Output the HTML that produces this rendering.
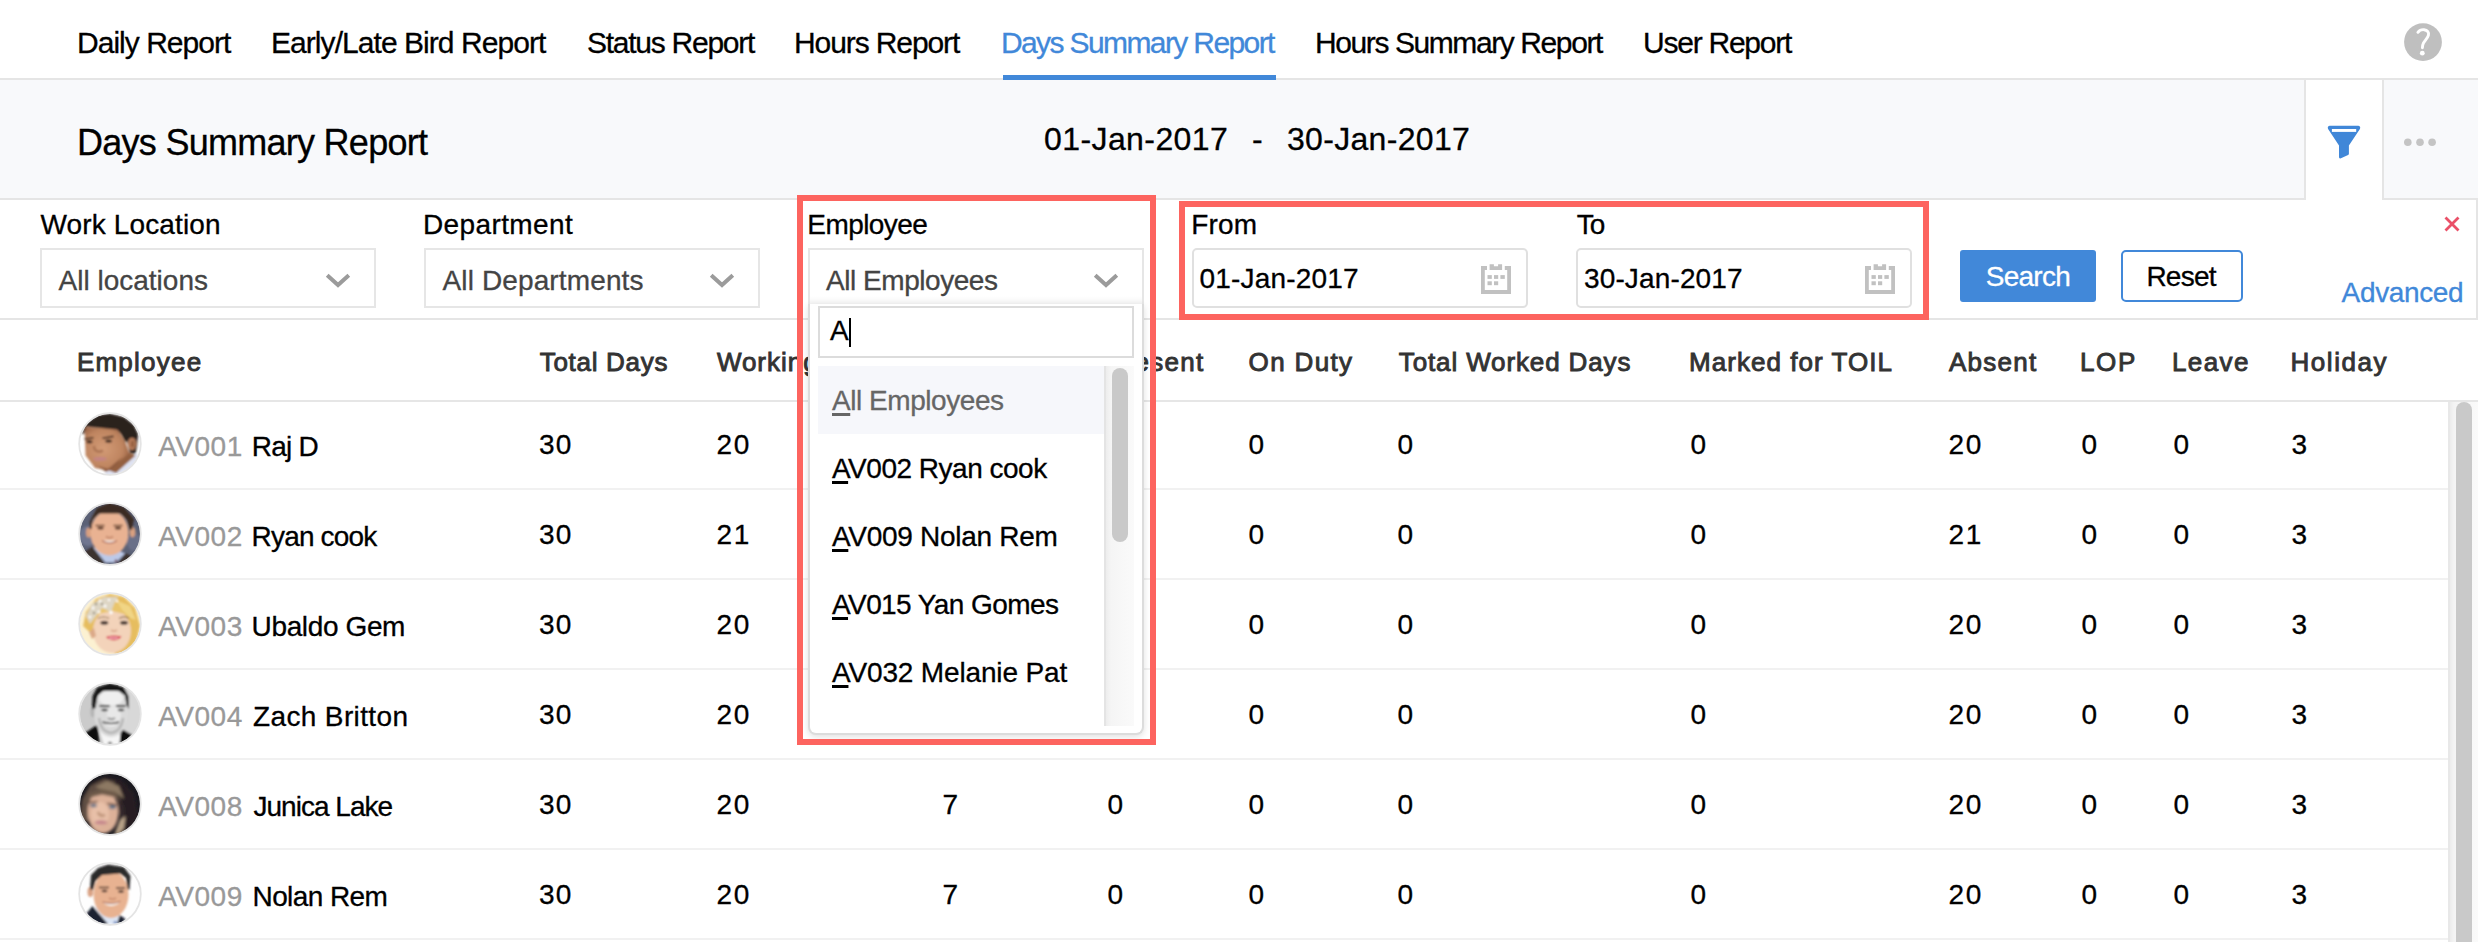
<!DOCTYPE html>
<html lang="en">
<head>
<meta charset="utf-8">
<title>Days Summary Report</title>
<style>
html,body{margin:0;padding:0;background:#fff;}
body{width:2478px;height:942px;overflow:hidden;position:relative;font-family:"Liberation Sans",sans-serif;color:#000;}
.a{position:absolute;box-sizing:border-box;}
.t{position:absolute;white-space:pre;-webkit-text-stroke-width:.3px;}
.t.h{-webkit-text-stroke-width:.9px;}
.t u{text-decoration:underline;text-decoration-thickness:2.5px;text-underline-offset:2.5px;}
.sel{position:absolute;box-sizing:border-box;width:336px;height:60px;top:248px;border:2px solid #e6e6e6;background:#fff;}
.date{position:absolute;box-sizing:border-box;width:336px;height:60px;top:248px;border:2px solid #e0e0e0;border-radius:5px;background:#fff;}
.rowline{position:absolute;left:0;width:2448px;height:2px;background:#f1f1f1;}
.av{position:absolute;left:78px;width:64px;height:64px;}
.red{position:absolute;box-sizing:border-box;border:6px solid #fd645f;}
</style>
</head>
<body>
<!-- tab bar -->
<div class="a" style="left:0;top:78px;width:2478px;height:2px;background:#e5e5e5"></div>
<div class="a" style="left:1003px;top:75px;width:273px;height:5px;background:#4188d9"></div>
<!-- help icon -->
<svg class="a" style="left:2404px;top:23px" width="38" height="38" viewBox="0 0 38 38"><circle cx="19" cy="19.100" r="18.900" fill="#bfbfbf"/><path d="M13.900 9.300C15.400 7.300 17.800 6.500 20 6.700C23.600 7.100 25.200 9.600 24.400 12.300C23.500 15.300 20.600 17.700 19.400 20.200C18.700 21.700 18.400 23.200 18.400 24.800" fill="none" stroke="#fff" stroke-width="2.900" stroke-linecap="round" stroke-linejoin="round"/><circle cx="18.300" cy="30.200" r="2.400" fill="#fff"/></svg>

<!-- gray title bar -->
<div class="a" style="left:0;top:80px;width:2478px;height:118px;background:#f8f9fb"></div>
<div class="a" style="left:0;top:198px;width:2478px;height:2px;background:#e5e5e5"></div>
<!-- filter icon cell (active) -->
<div class="a" style="left:2304px;top:80px;width:80px;height:120px;background:#fff;border-left:2px solid #e5e5e5;border-right:2px solid #e5e5e5"></div>
<svg class="a" style="left:2326px;top:124px" width="36" height="36" viewBox="0 0 36 36"><path d="M3.800 1.800H32.200A2 2 0 0 1 33.900 4.900L22.900 21.400V29.800A1.300 1.300 0 0 1 22.100 31L14.900 34.300A1.300 1.300 0 0 1 13 33.100V21.400L2.100 4.900A2 2 0 0 1 3.800 1.800z" fill="#4087d8"/><rect x="5.900" y="5" width="24.300" height="2.900" fill="#fff"/></svg>
<!-- dots -->
<svg class="a" style="left:2400px;top:134px" width="40" height="16" viewBox="0 0 40 16"><circle cx="7.800" cy="8.200" r="3.800" fill="#c4c4c4"/><circle cx="20" cy="8.200" r="3.800" fill="#c4c4c4"/><circle cx="32.100" cy="8.200" r="3.800" fill="#c4c4c4"/></svg>

<!-- filter panel -->
<div class="a" style="left:0;top:318px;width:2478px;height:2px;background:#e5e5e5"></div>
<div class="a" style="left:2476px;top:200px;width:2px;height:120px;background:#e5e5e5"></div>
<div class="sel" style="left:40px"></div>
<div class="sel" style="left:424px"></div>
<div class="sel" style="left:808px"></div>
<div class="date" style="left:1192px"></div>
<div class="date" style="left:1576px"></div>
<!-- chevrons -->
<svg class="a" style="left:323px;top:271px" width="30" height="20" viewBox="0 0 30 20"><path d="M4.200 4.200L15 14L25.800 4.200" fill="none" stroke="#9b9b9b" stroke-width="4"/></svg>
<svg class="a" style="left:707px;top:271px" width="30" height="20" viewBox="0 0 30 20"><path d="M4.200 4.200L15 14L25.800 4.200" fill="none" stroke="#9b9b9b" stroke-width="4"/></svg>
<svg class="a" style="left:1091px;top:271px" width="30" height="20" viewBox="0 0 30 20"><path d="M4.200 4.200L15 14L25.800 4.200" fill="none" stroke="#9b9b9b" stroke-width="4"/></svg>
<!-- calendar icons -->
<svg class="a" style="left:1481px;top:264px" width="30" height="30" viewBox="0 0 30 30"><g fill="#c1c1c1"><path d="M0 2H6V6H3.800V26H26.200V6H23.800V2H30V30H0z"/><path d="M8.600 .3H12.900V2.200H17.100V.3H21.100V6.100H8.600z"/><rect x="6.500" y="11.100" width="4.300" height="3.800"/><rect x="13" y="11.100" width="4.200" height="3.800"/><rect x="19.400" y="11.100" width="4.400" height="3.800"/><rect x="6.500" y="17.300" width="4.300" height="3.900"/><rect x="13" y="17.300" width="4.200" height="3.900"/></g></svg>
<svg class="a" style="left:1865px;top:264px" width="30" height="30" viewBox="0 0 30 30"><g fill="#c1c1c1"><path d="M0 2H6V6H3.800V26H26.200V6H23.800V2H30V30H0z"/><path d="M8.600 .3H12.900V2.200H17.100V.3H21.100V6.100H8.600z"/><rect x="6.500" y="11.100" width="4.300" height="3.800"/><rect x="13" y="11.100" width="4.200" height="3.800"/><rect x="19.400" y="11.100" width="4.400" height="3.800"/><rect x="6.500" y="17.300" width="4.300" height="3.900"/><rect x="13" y="17.300" width="4.200" height="3.900"/></g></svg>
<!-- buttons -->
<div class="a" style="left:1960px;top:250px;width:136px;height:52px;background:#4188d9;border-radius:3px"></div>
<div class="a" style="left:2121px;top:250px;width:122px;height:52px;background:#fff;border:2px solid #4188d9;border-radius:5px"></div>
<!-- close x -->
<svg class="a" style="left:2443px;top:215px" width="18" height="18" viewBox="0 0 18 18"><path d="M2.500 2.500L15.500 15.500M15.500 2.500L2.500 15.500" stroke="#ea5068" stroke-width="2.800" fill="none"/></svg>

<!-- table -->
<div class="a" style="left:0;top:400px;width:2478px;height:2px;background:#e6e6e6"></div>
<div class="rowline" style="top:488px"></div>
<div class="rowline" style="top:578px"></div>
<div class="rowline" style="top:668px"></div>
<div class="rowline" style="top:758px"></div>
<div class="rowline" style="top:848px"></div>
<div class="rowline" style="top:938px"></div>
<!-- page scrollbar -->
<div class="a" style="left:2448px;top:402px;width:30px;height:540px;background:linear-gradient(90deg,#ececec 0,#f4f4f4 4px,#fafafa 100%);border-left:2px solid #e8e8e8"></div>
<div class="a" style="left:2456px;top:402px;width:16px;height:600px;background:#c9c9c9;border-radius:8px"></div>

<svg width="0" height="0" style="position:absolute"><defs>
<filter id="bl" x="-10%" y="-10%" width="120%" height="120%"><feGaussianBlur stdDeviation="1"/></filter>
<filter id="bl2" x="-10%" y="-10%" width="120%" height="120%"><feGaussianBlur stdDeviation="1.6"/></filter>
<clipPath id="cc"><circle cx="32" cy="32" r="30.300"/></clipPath>
</defs></svg>
<!-- AV001 -->
<svg class="av" style="top:412px" viewBox="0 0 64 64"><defs><radialGradient id="g1" cx="42%" cy="50%" r="60%"><stop offset="0" stop-color="#d39b76"/><stop offset=".7" stop-color="#bf8560"/><stop offset="1" stop-color="#9c6446"/></radialGradient></defs><g clip-path="url(#cc)"><rect width="64" height="64" fill="#fefefe"/><g filter="url(#bl)">
<path d="M27 61L58.600 41.500L64 50V64H26z" fill="#dfe3f2"/>
<path d="M30 58L50 40L57.500 43.500L38 61z" fill="#94603f"/>
<path d="M48 20L60 22L59 34L57.500 42L52 41L49 30z" fill="#2a211e"/>
<path d="M6.400 15L39 16L47.500 30L51.500 41L30 58.500L17 56L7.600 43.500z" fill="url(#g1)"/>
<ellipse cx="54" cy="31.800" rx="4.200" ry="6.400" fill="#b87c5a"/><ellipse cx="54.600" cy="32" rx="1.800" ry="3.600" fill="#94603f"/>
<path d="M4 22L7 12L20 3L32 1.500L46 5L56 13L60 22L59 28L54.500 25L50 26.500L47.800 30.500L43 22L39 17.500L8 14.500L6 22z" fill="#2a211e"/>
<ellipse cx="11.500" cy="29.800" rx="3" ry="1.500" fill="#33201a"/><ellipse cx="30.600" cy="29" rx="3.400" ry="1.600" fill="#33201a"/>
<path d="M6.500 27l9-1.200M24.500 26.200l11-1.800" stroke="#3a241a" stroke-width="1.600" fill="none"/>
<ellipse cx="22" cy="46.800" rx="6.800" ry="1.900" fill="#c48484"/>
<path d="M16 34c0 5 4 7 9 4.500" stroke="#a87050" stroke-width="2.200" fill="none"/>
<path d="M20 54L30 57L44 45L36 56L28 60z" fill="#8f5c40"/>
</g></g><circle cx="32" cy="32" r="30.800" fill="none" stroke="#e4e4e4" stroke-width="1.800"/></svg>
<!-- AV002 -->
<svg class="av" style="top:502px" viewBox="0 0 64 64"><g clip-path="url(#cc)"><rect width="64" height="64" fill="#5b6176"/><g filter="url(#bl)">
<ellipse cx="10" cy="34" rx="9" ry="10" fill="#707690"/><ellipse cx="56" cy="40" rx="7" ry="9" fill="#6b7088"/>
<path d="M6 50L15 44.500L27 62H4z" fill="#3a302f"/><path d="M47 51L58 56V64H38z" fill="#3a302f"/>
<path d="M15.300 45.500L27.500 60.500H38L47 51.500L40 48z" fill="#bcc9e8"/><path d="M36 60l2-3 2 3z" fill="#6a3040"/>
<ellipse cx="10.800" cy="30.500" rx="2.800" ry="5" fill="#d9a080"/><ellipse cx="54.500" cy="30" rx="3" ry="5.200" fill="#d9a080"/>
<ellipse cx="31.500" cy="31" rx="19" ry="22.500" fill="#e9b292"/>
<path d="M11.500 27L12 19L19 6L31.500 0.800L46 5L56 17L54 28L51.500 27L49 18L42.500 11.500H21L14.500 18L13.500 27z" fill="#3b2a20"/>
<ellipse cx="22.500" cy="26.200" rx="3.200" ry="1.400" fill="#5a3a2a"/><ellipse cx="40" cy="26.200" rx="3.200" ry="1.400" fill="#5a3a2a"/>
<path d="M17.500 23.500h9M35.500 23.500h9" stroke="#6a4632" stroke-width="1.400"/>
<path d="M24 38.500c4 3.500 11 3.500 15 0z" fill="#f4ece6"/><path d="M24 38.500c4 3.500 11 3.500 15 0" stroke="#b06a58" stroke-width="1.200" fill="none"/>
<path d="M28 34.500c2 1.500 5 1.500 7 0" stroke="#c4886c" stroke-width="1.600" fill="none"/>
</g></g><circle cx="32" cy="32" r="30.800" fill="none" stroke="#e4e4e4" stroke-width="1.800"/></svg>
<!-- AV003 -->
<svg class="av" style="top:592px" viewBox="0 0 64 64"><g clip-path="url(#cc)"><rect width="64" height="64" fill="#fcf1d2"/><g filter="url(#bl)">
<path d="M5 34L8 20L18 7L32 2L46 5L57 16L62 34L58 50L46 62L36 62L50 44L48 26L30 20L18 30L16 44z" fill="#e6bd5e"/>
<path d="M38 8L52 14L58 28L52 26L44 18z" fill="#f1d585"/>
<ellipse cx="34" cy="39" rx="19" ry="22" fill="#f3d3ba"/>
<path d="M11 40l5-4 2 8-4 3z" fill="#dba988"/>
<path d="M14 30L20 22L34 19L46 22L40 12L24 8L12 18z" fill="#e9c56c"/>
<path d="M8 24L14 12L26 5L40 5L36 12L33 20L24 16L18 24L12 32z" fill="#ded6c4"/>
<g fill="#fff"><circle cx="15" cy="16" r="1.400"/><circle cx="22" cy="9" r="1.400"/><circle cx="27" cy="14" r="1.500"/><circle cx="21" cy="20" r="1.400"/><circle cx="12" cy="25" r="1.300"/><circle cx="33" cy="20.500" r="1.700"/><circle cx="31" cy="8" r="1.200"/><circle cx="39" cy="9" r="1.200"/></g>
<g fill="#6d6a5a"><circle cx="18" cy="12" r="1"/><circle cx="24" cy="12" r="1"/><circle cx="16" cy="21" r="1"/></g>
<ellipse cx="26.300" cy="30.800" rx="4" ry="2" fill="#4a3a34"/><ellipse cx="46" cy="30.800" rx="4" ry="2" fill="#4a3a34"/>
<path d="M20 26.500c3-2 8-2 11 0M41 26.500c3-2 7-2 10 0" stroke="#8a6a4a" stroke-width="1.200" fill="none"/>
<path d="M28 45c4-1.500 11-1.500 15.500-.5c-3 4.500-11 5-15.500.5z" fill="#d61c3a"/><path d="M31 46h9" stroke="#fff" stroke-width="1.200"/>
<path d="M33 38c2 1.500 4 1.500 6 0" stroke="#d9a88c" stroke-width="1.600" fill="none"/>
</g></g><circle cx="32" cy="32" r="30.800" fill="none" stroke="#e4e4e4" stroke-width="1.800"/></svg>
<!-- AV004 -->
<svg class="av" style="top:682px" viewBox="0 0 64 64"><g clip-path="url(#cc)"><rect width="64" height="64" fill="#cbcbcb"/><g filter="url(#bl)">
<rect x="42" width="22" height="64" fill="#d8d8d8"/>
<path d="M20 44L26 63H42L45 46z" fill="#f6f6f6"/>
<path d="M7 51L19.500 42.500L21.500 60L14 64H4z" fill="#111"/><path d="M43 46.500L54.500 53L48 62L41.500 62z" fill="#111"/>
<path d="M29 62l3-2.500 3 2.500z" fill="#444"/>
<ellipse cx="14.800" cy="30" rx="2.400" ry="5.200" fill="#b4b4b4"/>
<ellipse cx="33" cy="31" rx="16.800" ry="24" fill="#dadada"/>
<ellipse cx="33" cy="16" rx="12" ry="7.500" fill="#efefef"/>
<ellipse cx="36" cy="33" rx="7" ry="9" fill="#e8e8e8"/>
<path d="M14 27L14.500 14L19 5.500L31.500 1.200L45.500 4.500L50.500 14L51 27L48.500 23L47 13.500L41 9H25L19.500 13.500L18.500 20L17.500 26z" fill="#131313"/>
<path d="M21.500 24h10M38 24h9.500" stroke="#222" stroke-width="1.900"/>
<ellipse cx="26.500" cy="28" rx="3.200" ry="1.200" fill="#333"/><ellipse cx="43" cy="28" rx="3.200" ry="1.200" fill="#333"/>
<path d="M25.500 40.500c4 1.500 11 1.500 15 0c-3 5-12 5-15 0z" fill="#f8f8f8"/><path d="M24.500 40c4.500 2 12 2 16.500 0" stroke="#3a3a3a" stroke-width="1.500" fill="none"/>
<path d="M30 36c2 1.400 5 1.400 7 0" stroke="#8a8a8a" stroke-width="1.800" fill="none"/>
<path d="M21 36c1 8 5 14 12 15c7-1 11-7 12-15" stroke="#b8b8b8" stroke-width="2.500" fill="none"/>
</g></g><circle cx="32" cy="32" r="30.800" fill="none" stroke="#e4e4e4" stroke-width="1.800"/></svg>
<!-- AV008 -->
<svg class="av" style="top:772px" viewBox="0 0 64 64"><g clip-path="url(#cc)"><rect width="64" height="64" fill="#1b1a20"/><g filter="url(#bl2)">
<path d="M2 44L5 24L14 10L28 4L44 8L56 22L60 44L50 60L38 63L46 40L40 24L24 18L10 26L8 48z" fill="#271f20"/>
<path d="M2 48L4 28L12 14L26 7L38 10L30 15L16 21L11 31L10 50z" fill="#5e4e42"/>
<path d="M17 15L29 9L41 14L46 27L38 21L26 18z" fill="#8d7963"/>
<ellipse cx="25" cy="40" rx="15.500" ry="21.500" fill="#dcb098"/>
<ellipse cx="22" cy="42" rx="9" ry="12" fill="#e8c0a8"/>
<path d="M39 24L46 34L48 50L43 63L35 63L42 46z" fill="#33262a"/>
<path d="M42 48L47.500 44L46 56L40 63L37 62z" fill="#b8a288"/>
<path d="M8 30L12 21L24 17L38 20L43 30L36 25L24 22.500L14 25z" fill="#6e5a4a"/>
<ellipse cx="15.500" cy="33.500" rx="3.400" ry="1.800" fill="#5e7288"/><ellipse cx="34.500" cy="35" rx="3.600" ry="1.900" fill="#5e7288"/>
<path d="M10.500 30.500l9-1M29 31.500l10 1.500" stroke="#5a3e30" stroke-width="1.400" fill="none"/>
<ellipse cx="23" cy="50.500" rx="6.500" ry="2.200" fill="#c4848a"/>
<path d="M20 40c1 3.500 4 4.500 7 3" stroke="#b08468" stroke-width="2.200" fill="none"/>
<path d="M10 50c3 7 8 11 14 12l-10 2z" fill="#3a2c2a"/>
</g></g><circle cx="32" cy="32" r="30.800" fill="none" stroke="#e4e4e4" stroke-width="1.800"/></svg>
<!-- AV009 -->
<svg class="av" style="top:862px" viewBox="0 0 64 64"><g clip-path="url(#cc)"><rect width="64" height="64" fill="#fefefe"/><g filter="url(#bl)">
<path d="M16 45L29 62H40L42 53.500z" fill="#dde6f5"/>
<path d="M8.500 51.500L14.500 44L30 62L12 64z" fill="#1d2130"/><path d="M41.600 53L47.500 57L44 62H39z" fill="#1d2130"/>
<path d="M35 61.500l2-3 2.500 3z" fill="#5674b4"/>
<ellipse cx="12.300" cy="30" rx="2.800" ry="5" fill="#d9a284"/>
<ellipse cx="33" cy="32.500" rx="17.500" ry="23.500" fill="#e8b291"/>
<path d="M12 27L13 13L20 6L30 2.500L46 5L52.500 14L51.500 28L49.500 27L48 16L42 11.500L24 13L17.500 19L15 28z" fill="#2b292c"/>
<path d="M21 25.500h10M38 26h9" stroke="#4a342c" stroke-width="1.500"/>
<ellipse cx="26.500" cy="29" rx="3" ry="1.300" fill="#4a342c"/><ellipse cx="43" cy="29.500" rx="3" ry="1.300" fill="#4a342c"/>
<path d="M25 40c5 2 12 2 17-.5c-3 5.500-13 6-17 .5z" fill="#f6efe9"/><path d="M24.500 39.800c5 2.200 13 2 18-.6" stroke="#b2705c" stroke-width="1.200" fill="none"/>
<path d="M31 36c2 1.400 5 1.400 7 0" stroke="#c98c70" stroke-width="1.600" fill="none"/>
</g></g><circle cx="32" cy="32" r="30.800" fill="none" stroke="#e4e4e4" stroke-width="1.800"/></svg>


<span class="t" style="left:77.00px;top:27.50px;font-size:30px;line-height:30px;letter-spacing:-0.975px;">Daily Report</span>
<span class="t" style="left:271.00px;top:27.50px;font-size:30px;line-height:30px;letter-spacing:-0.943px;">Early/Late Bird Report</span>
<span class="t" style="left:587.00px;top:27.50px;font-size:30px;line-height:30px;letter-spacing:-1.258px;">Status Report</span>
<span class="t" style="left:794.00px;top:27.50px;font-size:30px;line-height:30px;letter-spacing:-1.097px;">Hours Report</span>
<span class="t" style="left:1001.00px;top:27.50px;font-size:30px;line-height:30px;color:#4188d9;letter-spacing:-1.615px;">Days Summary Report</span>
<span class="t" style="left:1315.00px;top:27.50px;font-size:30px;line-height:30px;letter-spacing:-1.408px;">Hours Summary Report</span>
<span class="t" style="left:1643.00px;top:27.50px;font-size:30px;line-height:30px;letter-spacing:-1.238px;">User Report</span>
<span class="t" style="left:77.00px;top:124.50px;font-size:36px;line-height:36px;letter-spacing:-0.727px;">Days Summary Report</span>
<span class="t" style="left:1044.00px;top:123.00px;font-size:32px;line-height:32px;letter-spacing:0.411px;">01-Jan-2017</span>
<span class="t" style="left:1252.00px;top:123.00px;font-size:32px;line-height:32px;">-</span>
<span class="t" style="left:1287.00px;top:123.00px;font-size:32px;line-height:32px;letter-spacing:0.311px;">30-Jan-2017</span>
<span class="t" style="left:40.50px;top:211.00px;font-size:28px;line-height:28px;letter-spacing:0.134px;">Work Location</span>
<span class="t" style="left:423.00px;top:211.00px;font-size:28px;line-height:28px;letter-spacing:0.388px;">Department</span>
<span class="t" style="left:807.30px;top:211.00px;font-size:28px;line-height:28px;letter-spacing:-0.562px;">Employee</span>
<span class="t" style="left:1191.20px;top:211.00px;font-size:28px;line-height:28px;letter-spacing:0.200px;">From</span>
<span class="t" style="left:1576.70px;top:211.00px;font-size:28px;line-height:28px;letter-spacing:-1.000px;">To</span>
<span class="t" style="left:58.50px;top:267.10px;font-size:28px;line-height:28px;color:#444;letter-spacing:0.008px;">All locations</span>
<span class="t" style="left:442.50px;top:267.10px;font-size:28px;line-height:28px;color:#444;letter-spacing:0.130px;">All Departments</span>
<span class="t" style="left:826.00px;top:267.10px;font-size:28px;line-height:28px;color:#444;letter-spacing:-0.451px;">All Employees</span>
<span class="t" style="left:1199.60px;top:265.40px;font-size:28px;line-height:28px;letter-spacing:0.165px;">01-Jan-2017</span>
<span class="t" style="left:1584.00px;top:265.40px;font-size:28px;line-height:28px;letter-spacing:0.135px;">30-Jan-2017</span>
<span class="t" style="left:1985.70px;top:262.70px;font-size:28px;line-height:28px;color:#fff;letter-spacing:-0.729px;">Search</span>
<span class="t" style="left:2146.40px;top:262.70px;font-size:28px;line-height:28px;letter-spacing:-0.741px;">Reset</span>
<span class="t" style="left:2341.60px;top:279.00px;font-size:28px;line-height:28px;color:#4188d9;letter-spacing:-0.352px;">Advanced</span>
<span class="t h" style="left:76.90px;top:348.60px;font-size:26px;line-height:26px;color:#333;letter-spacing:1.235px;">Employee</span>
<span class="t h" style="left:539.70px;top:348.60px;font-size:26px;line-height:26px;color:#333;letter-spacing:0.702px;">Total Days</span>
<span class="t h" style="left:716.90px;top:348.60px;font-size:26px;line-height:26px;color:#333;letter-spacing:0.969px;">Working Days</span>
<span class="t h" style="left:943.00px;top:348.60px;font-size:26px;line-height:26px;color:#333;">Weekend</span>
<span class="t h" style="left:1106.00px;top:348.60px;font-size:26px;line-height:26px;color:#333;letter-spacing:1.270px;">Present</span>
<span class="t h" style="left:1248.60px;top:348.60px;font-size:26px;line-height:26px;color:#333;letter-spacing:1.339px;">On Duty</span>
<span class="t h" style="left:1398.80px;top:348.60px;font-size:26px;line-height:26px;color:#333;letter-spacing:0.868px;">Total Worked Days</span>
<span class="t h" style="left:1689.00px;top:348.60px;font-size:26px;line-height:26px;color:#333;letter-spacing:1.047px;">Marked for TOIL</span>
<span class="t h" style="left:1949.00px;top:348.60px;font-size:26px;line-height:26px;color:#333;letter-spacing:1.256px;">Absent</span>
<span class="t h" style="left:2080.00px;top:348.60px;font-size:26px;line-height:26px;color:#333;letter-spacing:1.658px;">LOP</span>
<span class="t h" style="left:2172.00px;top:348.60px;font-size:26px;line-height:26px;color:#333;letter-spacing:1.405px;">Leave</span>
<span class="t h" style="left:2290.40px;top:348.60px;font-size:26px;line-height:26px;color:#333;letter-spacing:1.582px;">Holiday</span>
<span class="t" style="left:158.20px;top:433.10px;font-size:28px;line-height:28px;color:#999;letter-spacing:0.521px;">AV001</span>
<span class="t" style="left:251.80px;top:433.10px;font-size:28px;line-height:28px;letter-spacing:-0.748px;">Raj D</span>
<span class="t" style="left:539.00px;top:430.80px;font-size:28px;line-height:28px;letter-spacing:1.128px;">30</span>
<span class="t" style="left:716.50px;top:430.80px;font-size:28px;line-height:28px;letter-spacing:1.728px;">20</span>
<span class="t" style="left:942.50px;top:430.80px;font-size:28px;line-height:28px;">7</span>
<span class="t" style="left:1107.50px;top:430.80px;font-size:28px;line-height:28px;">0</span>
<span class="t" style="left:1248.60px;top:430.80px;font-size:28px;line-height:28px;">0</span>
<span class="t" style="left:1397.60px;top:430.80px;font-size:28px;line-height:28px;">0</span>
<span class="t" style="left:1690.60px;top:430.80px;font-size:28px;line-height:28px;">0</span>
<span class="t" style="left:1948.50px;top:430.80px;font-size:28px;line-height:28px;letter-spacing:1.728px;">20</span>
<span class="t" style="left:2081.60px;top:430.80px;font-size:28px;line-height:28px;">0</span>
<span class="t" style="left:2173.60px;top:430.80px;font-size:28px;line-height:28px;">0</span>
<span class="t" style="left:2291.40px;top:430.80px;font-size:28px;line-height:28px;">3</span>
<span class="t" style="left:158.20px;top:523.10px;font-size:28px;line-height:28px;color:#999;letter-spacing:0.521px;">AV002</span>
<span class="t" style="left:251.60px;top:523.10px;font-size:28px;line-height:28px;letter-spacing:-0.824px;">Ryan cook</span>
<span class="t" style="left:539.00px;top:520.80px;font-size:28px;line-height:28px;letter-spacing:1.128px;">30</span>
<span class="t" style="left:716.50px;top:520.80px;font-size:28px;line-height:28px;letter-spacing:1.728px;">21</span>
<span class="t" style="left:942.50px;top:520.80px;font-size:28px;line-height:28px;">7</span>
<span class="t" style="left:1107.50px;top:520.80px;font-size:28px;line-height:28px;">0</span>
<span class="t" style="left:1248.60px;top:520.80px;font-size:28px;line-height:28px;">0</span>
<span class="t" style="left:1397.60px;top:520.80px;font-size:28px;line-height:28px;">0</span>
<span class="t" style="left:1690.60px;top:520.80px;font-size:28px;line-height:28px;">0</span>
<span class="t" style="left:1948.50px;top:520.80px;font-size:28px;line-height:28px;letter-spacing:1.728px;">21</span>
<span class="t" style="left:2081.60px;top:520.80px;font-size:28px;line-height:28px;">0</span>
<span class="t" style="left:2173.60px;top:520.80px;font-size:28px;line-height:28px;">0</span>
<span class="t" style="left:2291.40px;top:520.80px;font-size:28px;line-height:28px;">3</span>
<span class="t" style="left:158.20px;top:613.10px;font-size:28px;line-height:28px;color:#999;letter-spacing:0.521px;">AV003</span>
<span class="t" style="left:251.60px;top:613.10px;font-size:28px;line-height:28px;letter-spacing:-0.373px;">Ubaldo Gem</span>
<span class="t" style="left:539.00px;top:610.80px;font-size:28px;line-height:28px;letter-spacing:1.128px;">30</span>
<span class="t" style="left:716.50px;top:610.80px;font-size:28px;line-height:28px;letter-spacing:1.728px;">20</span>
<span class="t" style="left:942.50px;top:610.80px;font-size:28px;line-height:28px;">7</span>
<span class="t" style="left:1107.50px;top:610.80px;font-size:28px;line-height:28px;">0</span>
<span class="t" style="left:1248.60px;top:610.80px;font-size:28px;line-height:28px;">0</span>
<span class="t" style="left:1397.60px;top:610.80px;font-size:28px;line-height:28px;">0</span>
<span class="t" style="left:1690.60px;top:610.80px;font-size:28px;line-height:28px;">0</span>
<span class="t" style="left:1948.50px;top:610.80px;font-size:28px;line-height:28px;letter-spacing:1.728px;">20</span>
<span class="t" style="left:2081.60px;top:610.80px;font-size:28px;line-height:28px;">0</span>
<span class="t" style="left:2173.60px;top:610.80px;font-size:28px;line-height:28px;">0</span>
<span class="t" style="left:2291.40px;top:610.80px;font-size:28px;line-height:28px;">3</span>
<span class="t" style="left:158.20px;top:703.10px;font-size:28px;line-height:28px;color:#999;letter-spacing:0.521px;">AV004</span>
<span class="t" style="left:253.00px;top:703.10px;font-size:28px;line-height:28px;letter-spacing:0.366px;">Zach Britton</span>
<span class="t" style="left:539.00px;top:700.80px;font-size:28px;line-height:28px;letter-spacing:1.128px;">30</span>
<span class="t" style="left:716.50px;top:700.80px;font-size:28px;line-height:28px;letter-spacing:1.728px;">20</span>
<span class="t" style="left:942.50px;top:700.80px;font-size:28px;line-height:28px;">7</span>
<span class="t" style="left:1107.50px;top:700.80px;font-size:28px;line-height:28px;">0</span>
<span class="t" style="left:1248.60px;top:700.80px;font-size:28px;line-height:28px;">0</span>
<span class="t" style="left:1397.60px;top:700.80px;font-size:28px;line-height:28px;">0</span>
<span class="t" style="left:1690.60px;top:700.80px;font-size:28px;line-height:28px;">0</span>
<span class="t" style="left:1948.50px;top:700.80px;font-size:28px;line-height:28px;letter-spacing:1.728px;">20</span>
<span class="t" style="left:2081.60px;top:700.80px;font-size:28px;line-height:28px;">0</span>
<span class="t" style="left:2173.60px;top:700.80px;font-size:28px;line-height:28px;">0</span>
<span class="t" style="left:2291.40px;top:700.80px;font-size:28px;line-height:28px;">3</span>
<span class="t" style="left:158.20px;top:793.10px;font-size:28px;line-height:28px;color:#999;letter-spacing:0.521px;">AV008</span>
<span class="t" style="left:253.50px;top:793.10px;font-size:28px;line-height:28px;letter-spacing:-0.986px;">Junica Lake</span>
<span class="t" style="left:539.00px;top:790.80px;font-size:28px;line-height:28px;letter-spacing:1.128px;">30</span>
<span class="t" style="left:716.50px;top:790.80px;font-size:28px;line-height:28px;letter-spacing:1.728px;">20</span>
<span class="t" style="left:942.50px;top:790.80px;font-size:28px;line-height:28px;">7</span>
<span class="t" style="left:1107.50px;top:790.80px;font-size:28px;line-height:28px;">0</span>
<span class="t" style="left:1248.60px;top:790.80px;font-size:28px;line-height:28px;">0</span>
<span class="t" style="left:1397.60px;top:790.80px;font-size:28px;line-height:28px;">0</span>
<span class="t" style="left:1690.60px;top:790.80px;font-size:28px;line-height:28px;">0</span>
<span class="t" style="left:1948.50px;top:790.80px;font-size:28px;line-height:28px;letter-spacing:1.728px;">20</span>
<span class="t" style="left:2081.60px;top:790.80px;font-size:28px;line-height:28px;">0</span>
<span class="t" style="left:2173.60px;top:790.80px;font-size:28px;line-height:28px;">0</span>
<span class="t" style="left:2291.40px;top:790.80px;font-size:28px;line-height:28px;">3</span>
<span class="t" style="left:158.20px;top:883.10px;font-size:28px;line-height:28px;color:#999;letter-spacing:0.521px;">AV009</span>
<span class="t" style="left:252.50px;top:883.10px;font-size:28px;line-height:28px;letter-spacing:-0.591px;">Nolan Rem</span>
<span class="t" style="left:539.00px;top:880.80px;font-size:28px;line-height:28px;letter-spacing:1.128px;">30</span>
<span class="t" style="left:716.50px;top:880.80px;font-size:28px;line-height:28px;letter-spacing:1.728px;">20</span>
<span class="t" style="left:942.50px;top:880.80px;font-size:28px;line-height:28px;">7</span>
<span class="t" style="left:1107.50px;top:880.80px;font-size:28px;line-height:28px;">0</span>
<span class="t" style="left:1248.60px;top:880.80px;font-size:28px;line-height:28px;">0</span>
<span class="t" style="left:1397.60px;top:880.80px;font-size:28px;line-height:28px;">0</span>
<span class="t" style="left:1690.60px;top:880.80px;font-size:28px;line-height:28px;">0</span>
<span class="t" style="left:1948.50px;top:880.80px;font-size:28px;line-height:28px;letter-spacing:1.728px;">20</span>
<span class="t" style="left:2081.60px;top:880.80px;font-size:28px;line-height:28px;">0</span>
<span class="t" style="left:2173.60px;top:880.80px;font-size:28px;line-height:28px;">0</span>
<span class="t" style="left:2291.40px;top:880.80px;font-size:28px;line-height:28px;">3</span>

<!-- dropdown panel -->
<div class="a" style="left:810px;top:296px;width:332px;height:10px;background:linear-gradient(180deg,rgba(0,0,0,0),rgba(0,0,0,.055))"></div>
<div class="a" style="left:808px;top:304px;width:336px;height:431px;background:#fff;border:2px solid #dcdcdc;border-top:none;border-radius:0 0 8px 8px;box-shadow:0 2px 6px rgba(0,0,0,.12)"></div>
<div class="a" style="left:818px;top:306px;width:316px;height:52px;background:#fff;border:2px solid #dcdcdc"></div>
<div class="a" style="left:849px;top:318px;width:2px;height:29px;background:#000"></div>
<div class="a" style="left:818px;top:366px;width:286px;height:68px;background:#f6f7fb"></div>
<div class="a" style="left:1104px;top:366px;width:30px;height:360px;background:linear-gradient(90deg,#ededed 0,#f5f5f5 5px,#fafafa 100%);border-left:2px solid #e4e4e4"></div>
<div class="a" style="left:1112px;top:368px;width:16px;height:174px;background:#c9c9c9;border-radius:8px"></div>
<span class="t" style="left:830.10px;top:316.60px;font-size:28px;line-height:28px;">A</span>
<span class="t" style="left:832.00px;top:387.20px;font-size:28px;line-height:28px;color:#666;letter-spacing:-0.451px;"><u>A</u>ll Employees</span>
<span class="t" style="left:832.00px;top:455.20px;font-size:28px;line-height:28px;letter-spacing:-0.490px;"><u>A</u>V002 Ryan cook</span>
<span class="t" style="left:832.00px;top:523.20px;font-size:28px;line-height:28px;letter-spacing:-0.279px;"><u>A</u>V009 Nolan Rem</span>
<span class="t" style="left:832.00px;top:591.20px;font-size:28px;line-height:28px;letter-spacing:-0.581px;"><u>A</u>V015 Yan Gomes</span>
<span class="t" style="left:832.00px;top:659.20px;font-size:28px;line-height:28px;letter-spacing:-0.153px;"><u>A</u>V032 Melanie Pat</span>

<!-- red highlight boxes -->
<div class="red" style="left:797px;top:195px;width:359px;height:550px"></div>
<div class="red" style="left:1179px;top:201px;width:750px;height:119px"></div>
</body>
</html>
